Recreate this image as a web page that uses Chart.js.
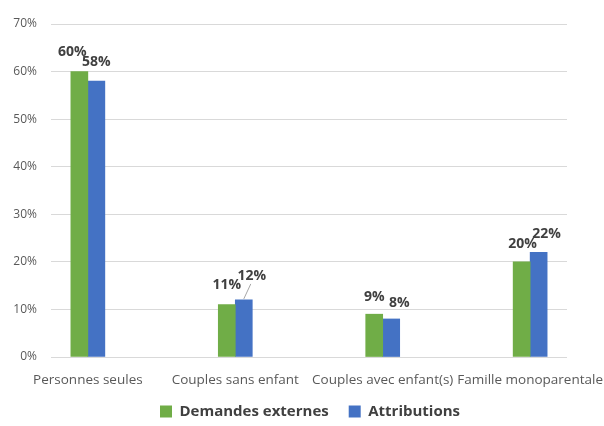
<!DOCTYPE html>
<html lang="fr">
<head>
    <meta charset="UTF-8">
    <title>Composition des ménages</title>
    <script src="https://cdn.jsdelivr.net/npm/chart.js"></script>
    <style>
        html, body { margin: 0; padding: 0; background: #fff; }
        #wrap { width: 604px; height: 426px; }
    </style>
</head>
<body>
    <div id="wrap"><canvas id="menagesChart" width="604" height="426"></canvas></div>

    <script>
        // Données du graphique
        const categories = ['Personnes seules', 'Couples sans enfant', 'Couples avec enfant(s)', 'Famille monoparentale'];
        const demandesExternes = [60, 11, 9, 20];
        const attributions = [58, 12, 8, 22];
        const yTicks = [0, 10, 20, 30, 40, 50, 60, 70];

        // Décalage des étiquettes (dx, dy) par rapport au haut de la barre
        const nudges = [
            [[-7, -20], [0, -20], [0, -17], [1, -18]],
            [[0, -19], [8, -24], [8, -16], [8, -18]]
        ];

        const labelColor = '#404040';

        // Étiquettes de valeur au-dessus des barres
        const valueLabels = {
            id: 'valueLabels',
            afterDatasetsDraw(chart) {
                const ctx = chart.ctx;
                ctx.save();
                ctx.font = 'bold 14px "Open Sans", sans-serif';
                ctx.fillStyle = labelColor;
                ctx.textAlign = 'center';
                ctx.textBaseline = 'middle';
                chart.data.datasets.forEach((ds, d) => {
                    chart.getDatasetMeta(d).data.forEach((bar, i) => {
                        const [dx, dy] = nudges[d][i];
                        const x = bar.x + dx;
                        const y = bar.y + dy;
                        // trait de rappel quand l'étiquette est éloignée
                        if (dy < -22) {
                            ctx.strokeStyle = '#a6a6a6';
                            ctx.lineWidth = 1;
                            ctx.beginPath();
                            ctx.moveTo(bar.x, bar.y - 1);
                            ctx.lineTo(x - 1, y + 8);
                            ctx.stroke();
                        }
                        ctx.fillText(ds.data[i].y + '%', x, y);
                    });
                });
                ctx.restore();
            }
        };

        // Légende un peu décalée (droite / haut)
        const legendShift = {
            id: 'legendShift',
            afterLayout(chart) {
                const lg = chart.legend;
                lg.left += 8; lg.right += 8;
                lg.top -= 6; lg.bottom -= 6;
            }
        };

        const toPoints = arr => arr.map((v, i) => ({ x: i, y: v }));

        new Chart(document.getElementById('menagesChart'), {
            type: 'bar',
            data: {
                datasets: [{
                    label: 'Demandes externes',
                    data: toPoints(demandesExternes),
                    backgroundColor: '#70AD47'
                }, {
                    label: 'Attributions',
                    data: toPoints(attributions),
                    backgroundColor: '#4472C4'
                }]
            },
            options: {
                responsive: false,
                animation: false,
                barThickness: 17,
                layout: { padding: { top: 24, right: 0, bottom: 0, left: 0 } },
                scales: {
                    x: {
                        type: 'linear',
                        offset: false,
                        min: -0.25,
                        max: 3.25,
                        grid: { display: false, drawTicks: false },
                        border: { display: false },
                        afterBuildTicks: s => { s.ticks = categories.map((_, i) => ({ value: i })); },
                        afterFit: s => { s.paddingLeft = 0; s.paddingRight = 0; s.height = 33; },
                        ticks: {
                            autoSkip: false,
                            maxRotation: 0,
                            padding: 15,
                            color: '#595959',
                            font: { family: '"Open Sans", sans-serif', size: 13.5 },
                            callback: v => categories[v]
                        }
                    },
                    y: {
                        min: 0,
                        max: 70,
                        afterBuildTicks: s => { s.ticks = yTicks.map(v => ({ value: v })); },
                        afterFit: s => { s.width = 51; },
                        grid: { color: '#d9d9d9', lineWidth: 1, drawTicks: false },
                        border: { display: false },
                        ticks: {
                            padding: 14,
                            color: '#595959',
                            font: { family: '"Open Sans", sans-serif', size: 12 },
                            callback: v => v + '%'
                        }
                    },
                    // marge droite de la zone de tracé
                    yRight: {
                        position: 'right',
                        display: true,
                        afterFit: s => { s.width = 37; },
                        grid: { display: false, drawTicks: false },
                        border: { display: false },
                        ticks: { display: false }
                    }
                },
                plugins: {
                    legend: {
                        position: 'bottom',
                        maxHeight: 36,
                        labels: {
                            boxWidth: 12,
                            boxHeight: 12,
                            padding: 20,
                            color: labelColor,
                            font: { family: '"Open Sans", sans-serif', size: 15, weight: 'bold' }
                        }
                    },
                    tooltip: { enabled: false }
                }
            },
            plugins: [valueLabels, legendShift]
        });
    </script>
</body>
</html>
